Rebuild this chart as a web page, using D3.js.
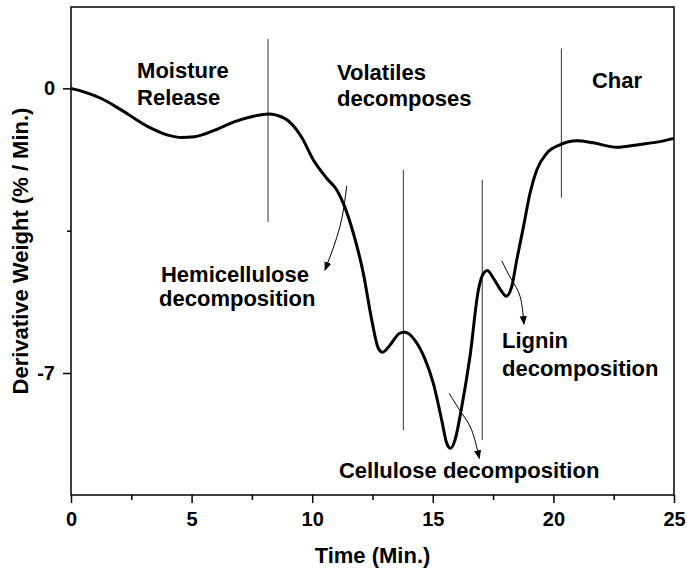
<!DOCTYPE html>
<html>
<head>
<meta charset="utf-8">
<script src="https://cdn.jsdelivr.net/npm/d3@7"></script>
<style>
  body { margin: 0; background: #fff; }
  text { font-family: "Liberation Sans", Arial, sans-serif; font-weight: bold; fill: #000; }
</style>
</head>
<body>
<svg id="chart" width="687" height="571"></svg>
<script>
// DTG curve
var time = [0, 0.5, 1.26, 2.08, 3.19, 4.02, 4.57, 5.13, 5.96, 6.79, 7.61, 8.17, 8.86, 9.55,
  10.05, 10.6, 11.02, 11.29, 11.71, 12.12, 12.47, 12.74, 12.92, 13.23, 13.64, 13.85, 14.25,
  14.65, 15.02, 15.37, 15.58, 15.74, 15.92, 16.2, 16.54, 16.89, 17.1, 17.26, 17.51, 17.86,
  18.04, 18.27, 18.48, 18.76, 19.03, 19.31, 19.72, 20.27, 20.97, 21.65, 22.62, 23.58, 24.41, 25];
var dtg = [0, -0.08, -0.25, -0.53, -0.94, -1.15, -1.21, -1.19, -1.03, -0.82, -0.68, -0.63, -0.74, -1.19,
  -1.76, -2.21, -2.5, -2.83, -3.57, -4.55, -5.7, -6.39, -6.49, -6.31, -6.02, -6.0, -6.19,
  -6.62, -7.25, -8.16, -8.73, -8.85, -8.65, -7.83, -6.6, -4.96, -4.55, -4.48, -4.67, -5.0,
  -5.11, -4.88, -4.22, -3.4, -2.58, -2.01, -1.6, -1.39, -1.29, -1.34, -1.45, -1.38, -1.31, -1.23];

// Axis ticks
var xMajorTicks = [0, 5, 10, 15, 20, 25];
var xMinorTicks = [2.5, 7.5, 12.5, 17.5, 22.5];
var yMajorTicks = [0, -7];
var yMinorTicks = [-3.5];

// Vertical stage dividers
var dividerTimes = [8.17, 13.78, 17.05, 20.33];
var dividerTops = [1.21, -2.01, -2.25, 0.98];
var dividerBottoms = [-3.29, -8.4, -8.65, -2.69];

// Text labels (anchored at time / value)
var labelTexts = ["Moisture", "Release", "Volatiles", "decomposes", "Char",
  "Hemicellulose", "decomposition", "Lignin", "decomposition", "Cellulose decomposition"];
var labelTimes = [2.74, 2.74, 11.03, 11.03, 21.6, 3.73, 3.65, 17.87, 17.87, 11.11];
var labelValues = [0.25, -0.42, 0.2, -0.44, 0, -4.76, -5.35, -6.39, -7.07, -9.59];

// Pointer arrows, each a list of [time, value]
var arrowPaths = [
  [[11.43, -2.40], [11.15, -3.40], [10.53, -4.47]],
  [[15.68, -7.50], [16.20, -7.99], [16.61, -8.40], [16.93, -9.10]],
  [[17.86, -4.24], [18.27, -4.71], [18.62, -5.12], [18.78, -5.80]]
];

var svg = d3.select("#chart");
var margin = {top: 7, right: 13, bottom: 76, left: 71};
var width = 687 - margin.left - margin.right;
var height = 571 - margin.top - margin.bottom;

var g = svg.append("g")
  .attr("transform", `translate(${margin.left},${margin.top})`);

var x = d3.scaleLinear().domain([0, 25]).range([0, width]);
var y = d3.scaleLinear().domain([-10, 2]).range([height, 0]);

// arrow head
svg.append("defs").append("marker")
  .attr("id", "head")
  .attr("viewBox", "0 0 10 10")
  .attr("refX", 9)
  .attr("refY", 5)
  .attr("markerWidth", 9)
  .attr("markerHeight", 9)
  .attr("markerUnits", "userSpaceOnUse")
  .attr("orient", "auto")
  .append("path")
    .attr("d", "M0,1 L10,5 L0,9 Z")
    .attr("fill", "#000");

// frame
g.append("rect")
  .attr("width", width)
  .attr("height", height)
  .attr("fill", "none")
  .attr("stroke", "#000")
  .attr("stroke-width", 1.5);

// plain hyphen for negatives, like the original
var plain = d => String(d);

// x axis
var xAxis = g.append("g")
  .attr("transform", `translate(0,${height})`)
  .call(d3.axisBottom(x).tickValues(xMajorTicks).tickSize(8).tickPadding(9).tickFormat(plain));
xAxis.select(".domain").remove();
xAxis.selectAll("line").attr("stroke-width", 1.5);
xAxis.selectAll("text").attr("font-size", 20).attr("font-family", null);

var xMinor = g.append("g")
  .attr("transform", `translate(0,${height})`)
  .call(d3.axisBottom(x).tickValues(xMinorTicks).tickSize(5).tickFormat(""));
xMinor.select(".domain").remove();
xMinor.selectAll("line").attr("stroke-width", 1.5);

// y axis
var yAxis = g.append("g")
  .call(d3.axisLeft(y).tickValues(yMajorTicks).tickSize(8).tickPadding(8).tickFormat(plain));
yAxis.select(".domain").remove();
yAxis.selectAll("line").attr("stroke-width", 1.5);
yAxis.selectAll("text").attr("font-size", 20).attr("font-family", null);

var yMinor = g.append("g")
  .call(d3.axisLeft(y).tickValues(yMinorTicks).tickSize(4).tickFormat(""));
yMinor.select(".domain").remove();
yMinor.selectAll("line").attr("stroke-width", 1.5);

// axis titles
svg.append("text")
  .attr("x", margin.left + width / 2)
  .attr("y", 563)
  .attr("text-anchor", "middle")
  .attr("font-size", 22)
  .text("Time (Min.)");

svg.append("text")
  .attr("transform", `translate(28,${margin.top + height / 2}) rotate(-90)`)
  .attr("text-anchor", "middle")
  .attr("font-size", 22)
  .text("Derivative Weight (% / Min.)");

// stage dividers
g.selectAll(".divider")
  .data(dividerTimes)
  .enter().append("line")
    .attr("class", "divider")
    .attr("x1", d => x(d))
    .attr("x2", d => x(d))
    .attr("y1", (d, i) => y(dividerTops[i]))
    .attr("y2", (d, i) => y(dividerBottoms[i]))
    .attr("stroke", "#333")
    .attr("stroke-width", 1);

// DTG curve
var line = d3.line()
  .x(d => x(d[0]))
  .y(d => y(d[1]))
  .curve(d3.curveMonotoneX);

g.append("path")
  .datum(time.map((t, i) => [t, dtg[i]]))
  .attr("d", line)
  .attr("fill", "none")
  .attr("stroke", "#000")
  .attr("stroke-width", 3)
  .attr("stroke-linejoin", "round");

// arrows
var arrowLine = d3.line()
  .x(d => x(d[0]))
  .y(d => y(d[1]))
  .curve(d3.curveNatural);

g.selectAll(".arrow")
  .data(arrowPaths)
  .enter().append("path")
    .attr("class", "arrow")
    .attr("d", arrowLine)
    .attr("fill", "none")
    .attr("stroke", "#000")
    .attr("stroke-width", 1)
    .attr("marker-end", "url(#head)");

// labels
g.selectAll(".label")
  .data(labelTexts)
  .enter().append("text")
    .attr("class", "label")
    .attr("x", (d, i) => x(labelTimes[i]))
    .attr("y", (d, i) => y(labelValues[i]))
    .attr("font-size", 22)
    .text(d => d);
</script>
</body>
</html>
